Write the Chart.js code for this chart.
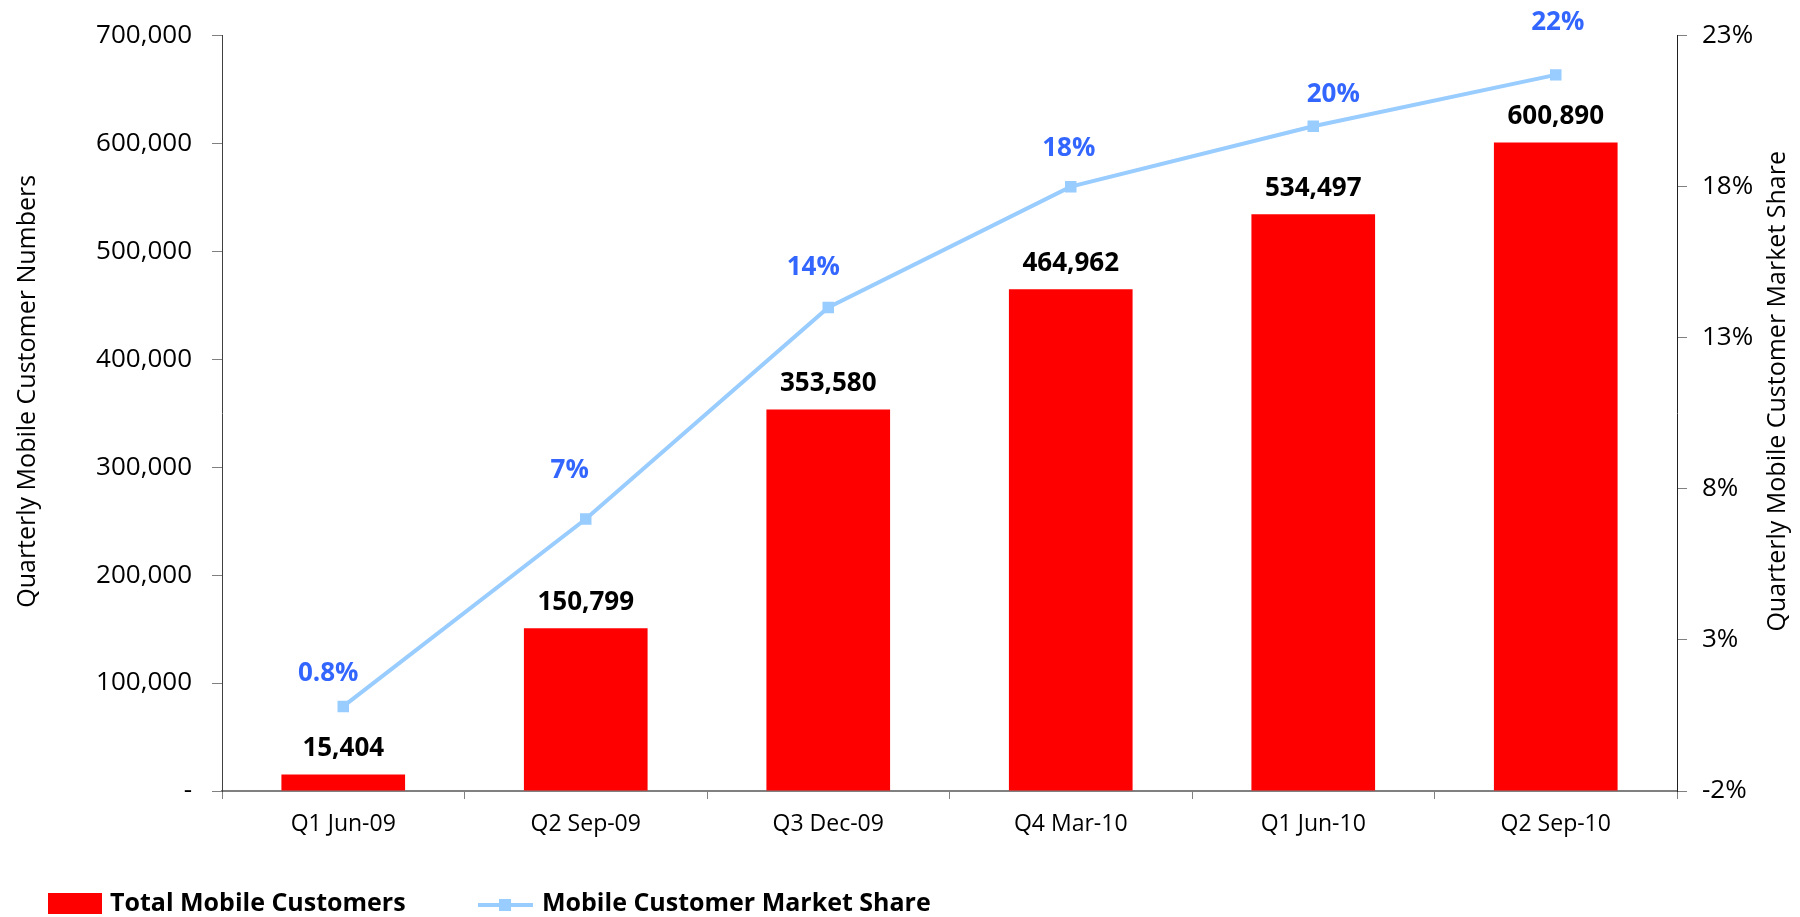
<!DOCTYPE html>
<html lang="en">
<head>
  <meta charset="UTF-8">
  <title>Quarterly Mobile Customers</title>
  <style>
    html, body { margin: 0; padding: 0; background: #fff; }
    .chart-box { width: 1800px; height: 917px; position: relative; }
  </style>
</head>
<body>

<div class="chart-box">
  <canvas id="customersChart"></canvas>
</div>

<script src="https://cdn.jsdelivr.net/npm/chart.js"></script>
<script>
  // data
  const quarters = ['Q1 Jun-09', 'Q2 Sep-09', 'Q3 Dec-09', 'Q4 Mar-10', 'Q1 Jun-10', 'Q2 Sep-10'];
  const totalCustomers = [15404, 150799, 353580, 464962, 534497, 600890];
  const marketShare = [0.8, 7.0, 14.0, 18.0, 20.0, 21.7];
  const shareLabels = ['0.8%', '7%', '14%', '18%', '20%', '22%'];
  const leftTicks = [0, 100000, 200000, 300000, 400000, 500000, 600000, 700000];
  const rightTicks = [-2, 3, 8, 13, 18, 23];
  const leftTitle = 'Quarterly Mobile Customer Numbers';
  const rightTitle = 'Quarterly Mobile Customer Market Share';

  // label nudges (px) for the share labels, as placed in the original
  const shareLabelDx = [-15, -16, -15, -2, 20, 2];
  const shareLabelDy = [-33, -48, -40, -38, -32, -52];

  const FONT = "'Open Sans', sans-serif";
  Chart.defaults.font.family = FONT;
  Chart.defaults.color = '#000';

  // value labels above bars and points
  const valueLabels = {
    id: 'valueLabels',
    afterDatasetsDraw(chart) {
      const ctx = chart.ctx;
      ctx.save();
      ctx.textAlign = 'center';
      ctx.textBaseline = 'middle';
      ctx.font = `bold 26px ${FONT}`;

      chart.getDatasetMeta(1).data.forEach((bar, i) => {
        ctx.fillStyle = '#000';
        ctx.fillText(totalCustomers[i].toLocaleString('en-US'), bar.x, bar.y - 26);
      });

      chart.getDatasetMeta(0).data.forEach((pt, i) => {
        ctx.fillStyle = '#3366FF';
        ctx.fillText(shareLabels[i], pt.x + shareLabelDx[i], pt.y + shareLabelDy[i]);
      });
      ctx.restore();
    }
  };

  // both axis titles read bottom-to-top, sitting a little above the middle
  const axisTitles = {
    id: 'axisTitles',
    afterDraw(chart) {
      const ctx = chart.ctx;
      const area = chart.chartArea;
      const midY = (area.top + area.bottom) / 2 - 22;
      ctx.save();
      ctx.font = `25px ${FONT}`;
      ctx.fillStyle = '#000';
      ctx.textAlign = 'center';
      ctx.textBaseline = 'middle';
      [[28, leftTitle], [1778, rightTitle]].forEach(([x, text]) => {
        ctx.save();
        ctx.translate(x, midY);
        ctx.rotate(-Math.PI / 2);
        ctx.fillText(text, 0, 0);
        ctx.restore();
      });
      ctx.restore();
    }
  };

  // legend along the bottom left
  const bottomLegend = {
    id: 'bottomLegend',
    afterDraw(chart) {
      const ctx = chart.ctx;
      const bars = chart.data.datasets[1];
      const line = chart.data.datasets[0];
      const y = 904;
      ctx.save();
      ctx.font = `bold 25px ${FONT}`;
      ctx.textBaseline = 'middle';
      ctx.textAlign = 'left';

      ctx.fillStyle = bars.backgroundColor;
      ctx.fillRect(48, 893, 54, 21);
      ctx.fillStyle = '#000';
      ctx.fillText(bars.label, 110, y);

      ctx.strokeStyle = line.borderColor;
      ctx.lineWidth = 4;
      ctx.beginPath();
      ctx.moveTo(478, y + 1);
      ctx.lineTo(533, y + 1);
      ctx.stroke();
      ctx.fillStyle = line.borderColor;
      ctx.fillRect(499, y - 5, 12, 12);
      ctx.fillStyle = '#000';
      ctx.fillText(line.label, 542, y);
      ctx.restore();
    }
  };

  const ctx = document.getElementById('customersChart').getContext('2d');

  new Chart(ctx, {
    data: {
      labels: quarters,
      datasets: [
        {
          type: 'line',
          label: 'Mobile Customer Market Share',
          data: marketShare,
          yAxisID: 'yShare',
          borderColor: '#99CCFF',
          backgroundColor: '#99CCFF',
          borderWidth: 4,
          tension: 0,
          pointStyle: 'rect',
          pointRadius: 6,
          pointBorderWidth: 3,
          pointBackgroundColor: '#99CCFF',
          pointBorderColor: '#99CCFF',
          order: 1
        },
        {
          type: 'bar',
          label: 'Total Mobile Customers',
          data: totalCustomers,
          yAxisID: 'yCount',
          backgroundColor: '#FF0000',
          borderWidth: 0,
          categoryPercentage: 1.0,
          barPercentage: 0.51,
          order: 2
        }
      ]
    },
    options: {
      responsive: true,
      maintainAspectRatio: false,
      animation: false,
      layout: { padding: { top: 35, left: 0, right: 0, bottom: 0 } },
      plugins: {
        legend: { display: false },
        tooltip: { enabled: false }
      },
      scales: {
        x: {
          offset: true,
          border: { display: true, color: '#808080', width: 2 },
          grid: {
            offset: true,
            drawOnChartArea: false,
            drawTicks: true,
            tickLength: 8,
            color: '#808080'
          },
          ticks: { font: { size: 23 }, color: '#000', padding: 12, maxRotation: 0 },
          afterFit(scale) { scale.height = 126; }
        },
        yCount: {
          position: 'left',
          min: 0,
          max: 700000,
          border: { display: true, color: '#404040', width: 1 },
          grid: { drawOnChartArea: false, drawTicks: true, tickLength: 10, color: '#808080' },
          afterBuildTicks(scale) { scale.ticks = leftTicks.map(v => ({ value: v })); },
          ticks: {
            font: { size: 26 },
            color: '#000',
            padding: 20,
            callback: v => v === 0 ? '-' : v.toLocaleString('en-US')
          },
          afterFit(scale) { scale.width = 222; }
        },
        yShare: {
          position: 'right',
          min: -2,
          max: 23,
          border: { display: true, color: '#202020', width: 1 },
          grid: { drawOnChartArea: false, drawTicks: true, tickLength: 10, color: '#808080' },
          afterBuildTicks(scale) { scale.ticks = rightTicks.map(v => ({ value: v })); },
          ticks: {
            font: { size: 26 },
            color: '#000',
            padding: 15,
            callback: v => v + '%'
          },
          afterFit(scale) { scale.width = 123; }
        }
      }
    },
    plugins: [valueLabels, axisTitles, bottomLegend]
  });
</script>

</body>
</html>
